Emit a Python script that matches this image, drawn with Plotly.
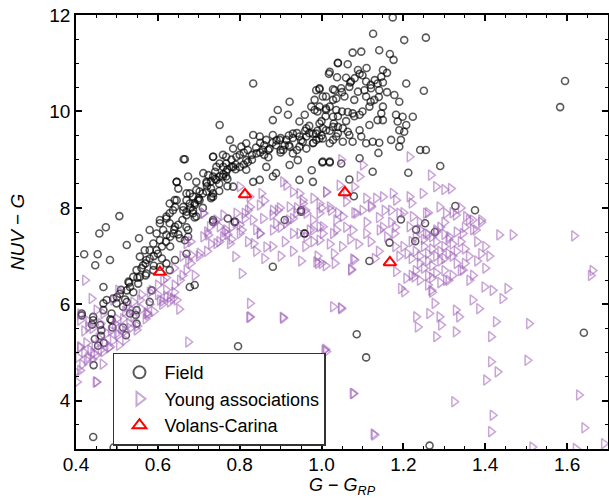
import plotly.graph_objects as go

# ---------------- data ----------------
field_pts = [
    (1.595,10.63),(1.583,10.09),(1.641,5.41),(1.126,11.61),(1.202,11.48),(1.255,11.53),(1.174,11.95),
    (1.076,11.22),(1.097,11.24),(1.141,11.27),(1.167,11.19),(1.176,11.07),(1.04,11.01),(1.064,10.98),
    (1.018,10.78),(1.038,10.71),(1.089,10.86),(1.093,10.78),(1.081,10.69),(1.072,10.62),(1.109,10.62),
    (1.15,10.86),(1.146,10.72),(1.137,10.58),(1.141,10.44),(1.121,10.48),(1.105,10.44),(1.089,10.41),
    (1.068,10.51),(1.048,10.48),(1.028,10.46),(0.995,10.46),(0.983,10.24),(0.975,10.1),(1.003,10.31),
    (1.028,10.24),(1.056,10.31),(1.08,10.24),(1.109,10.31),(1.129,10.24),(1.15,10.1),(1.178,10.34),
    (1.19,10.2),(1.207,10.58),(1.25,10.43),(0.959,9.93),(0.983,10.03),(1.011,10.06),(1.036,10.03),
    (1.064,9.99),(1.076,9.96),(1.093,9.93),(1.117,10.1),(1.137,9.82),(1.146,9.96),(1.15,9.82),
    (1.117,9.72),(1.093,9.61),(1.064,9.58),(1.068,9.51),(1.052,9.65),(1.028,9.68),(1.003,9.65),
    (0.987,9.54),(0.963,9.48),(0.954,9.37),(0.995,9.44),(1.028,9.41),(1.052,9.37),(1.076,9.37),
    (1.109,9.34),(1.097,9.48),(1.125,9.37),(1.141,9.35),(1.17,9.41),(1.182,9.93),(1.186,9.79),
    (1.198,9.89),(1.207,9.72),(1.223,9.89),(1.202,9.58),(1.19,9.61),(1.194,9.41),(1.19,9.27),
    (1.139,9.14),(1.241,9.2),(1.255,9.2),(1.212,8.73),(1.125,8.75),(1.093,9.03),(1.048,8.92),
    (1.02,8.94),(1.002,8.94),(0.976,8.78),(0.979,8.54),(1.068,8.59),(1.079,8.24),(1.29,8.87),
    (1.327,8.04),(1.375,7.95),(0.95,7.92),(1.194,7.76),(1.253,7.68),(1.231,7.55),(1.277,7.5),
    (1.166,7.28),(1.229,7.31),(1.117,6.9),(1.086,5.38),(1.109,4.9),(0.959,7.47),(0.796,5.13),
    (0.881,6.78),(0.442,3.25),(1.264,3.07),(0.492,3.03),
    (1.06,10.7),(1.10,10.75),(1.12,10.55),(1.13,10.65),(1.15,10.6),(1.16,10.8),(1.11,10.9),
    (0.751,9.72),(0.833,10.58),(0.922,10.2),(0.893,10.03),(0.918,9.93),(0.881,9.82),(0.946,9.79),
    (0.963,9.65),(0.995,9.75),(1.011,9.61),(0.979,9.54),(0.987,9.41),(0.946,9.48),(0.93,9.54),
    (0.914,9.41),(0.922,9.27),(0.898,9.41),(0.881,9.51),(0.865,9.41),(0.849,9.48),(0.833,9.51),
    (0.816,9.34),(0.804,9.27),(0.784,9.23),(0.776,9.41),(0.735,9.06),(0.759,9.10),(0.767,8.92),
    (0.792,9.06),(0.816,8.99),(0.841,9.13),(0.857,9.20),(0.873,9.23),(0.889,9.30),(0.906,9.20),
    (0.93,9.13),(0.946,9.27),(0.963,9.23),(0.979,9.34),(1.003,8.96),(1.02,8.96),(1.003,9.44),
    (1.02,9.34),(1.036,9.48),(1.04,9.68),(1.028,9.89),(1.011,10.03),(0.995,10.10),(0.987,10.44),
    (0.995,10.48),(1.011,10.31),(1.032,10.44),(1.036,10.27),(1.02,10.82),(1.04,11.0),
    (0.881,8.65),(0.889,8.72),(0.849,8.58),(0.833,8.54),(0.759,8.65),(0.735,8.65),(0.719,8.54),
    (0.743,8.85),(0.767,8.75),(0.80,8.85),(0.816,8.79),(0.865,8.85),(0.922,8.89),(0.946,8.58),
    (0.942,8.99),(0.735,8.30),(0.784,8.44),(0.666,9.01),(0.674,8.65),(0.646,8.54),(0.711,8.72),
    (0.694,8.54),(0.702,8.34),(0.678,8.30),(0.731,8.23),(0.702,8.16),(0.67,8.16),(0.69,8.06),
    (0.641,8.16),(0.629,8.09),(0.637,7.95),(0.621,7.82),(0.605,7.68),(0.662,8.02),(0.686,7.89),
    (0.95,7.95),(0.958,7.47),(0.91,7.75),(0.735,7.71),(0.771,7.78),(0.788,7.71),
    (0.97,9.7),(1.0,9.8),(1.01,9.9),(1.03,9.75),(1.04,9.9),(1.05,10.0),(0.99,10.0),(1.02,10.1),
    (0.96,9.6),(0.94,9.55),(0.92,9.5),(0.90,9.45),(0.88,9.35),(0.86,9.3),(0.84,9.25),(0.82,9.2),
    (0.80,9.1),(0.78,9.0),(0.76,8.85),(0.74,8.75),(0.90,9.2),(0.92,9.3),(0.85,9.15),(0.87,9.05),
    (0.83,9.0),(0.81,8.9),(0.79,8.8),(0.77,8.6),(0.75,8.5),(0.73,8.4),
    (0.663,9.01),(0.735,9.06),(0.751,8.92),(0.767,9.06),(0.784,8.85),(0.723,8.68),(0.743,8.58),
    (0.767,8.65),(0.719,8.51),(0.646,8.54),(0.65,8.40),(0.67,8.30),(0.686,8.23),(0.694,8.37),
    (0.698,8.16),(0.678,8.09),(0.662,7.95),(0.686,7.95),(0.694,7.82),(0.719,8.34),(0.735,8.23),
    (0.646,8.16),(0.642,8.02),(0.629,7.89),(0.621,7.78),(0.605,7.75),(0.629,7.68),(0.642,7.61),
    (0.613,7.54),(0.597,7.47),(0.621,7.44),(0.638,7.47),(0.654,7.37),(0.605,7.33),(0.589,7.26),
    (0.568,7.12),(0.58,7.12),(0.597,7.12),(0.556,6.99),(0.572,6.92),(0.564,6.81),(0.548,6.71),
    (0.54,6.57),(0.528,6.47),(0.556,6.57),(0.572,6.64),(0.589,6.71),(0.605,6.78),(0.621,6.85),
    (0.552,6.43),(0.524,6.29),(0.532,6.36),(0.585,6.29),(0.507,6.22),(0.491,6.12),(0.499,6.02),
    (0.475,6.09),(0.467,6.36),(0.442,5.74),(0.467,6.02),(0.487,5.67),(0.548,5.60),(0.67,7.92),
    (0.674,7.54),(0.674,7.40),(0.735,7.75),(0.788,7.71),(0.506,7.83),(0.473,7.60),(0.457,7.47),
    (0.42,7.04),(0.453,7.04),(0.447,6.81),(0.483,6.92),(0.524,7.23),(0.554,7.37),(0.58,7.54),
    (0.666,7.33),(0.67,7.05),(0.69,6.40),(0.678,6.36),(0.642,6.92),(0.629,6.71),(0.58,6.05),
    (0.548,5.88),(0.532,5.81),(0.524,6.05),(0.515,5.95),(0.487,5.81),(0.467,5.88),(0.442,5.67),
    (0.414,5.77),(0.459,5.57),
    (0.439,5.58),(0.454,5.14),(0.468,5.20),(0.462,5.46),(0.446,5.28),(0.461,5.35),(0.443,4.74),
    (0.484,5.69),(0.489,5.52),(0.515,5.52),(0.522,5.36),(0.546,5.78),(0.414,5.81),
    (0.56,6.75),(0.57,6.85),(0.58,6.95),(0.59,7.00),(0.60,7.05),(0.61,7.20),(0.62,7.30),(0.63,7.40),
    (0.64,7.55),(0.65,7.65),(0.66,7.75),(0.67,7.85),(0.68,8.00),(0.69,8.10),(0.70,8.20),(0.71,8.30),
    (0.72,8.45),(0.73,8.55),(0.74,8.60),(0.75,8.65),(0.76,8.70),(0.77,8.80),(0.78,8.85),(0.79,8.90),
    (0.55,6.55),(0.57,6.60),(0.59,6.80),(0.61,6.95),(0.63,7.20),(0.65,7.45),(0.67,7.60),(0.69,7.80),
    (0.71,8.00),(0.73,8.20),(0.75,8.35),(0.77,8.45),(0.53,6.45),(0.51,6.30),(0.50,6.15),(0.52,6.10),
    (0.54,6.25),
    (0.81,9.15),(0.83,9.10),(0.85,9.35),(0.87,9.20),(0.89,9.40),(0.91,9.30),(0.93,9.45),(0.95,9.40),
    (0.97,9.55),(0.99,9.60),(0.82,8.95),(0.86,9.10),(0.90,9.15),(0.94,9.20),(0.98,9.35),(1.00,9.50),
    (1.02,9.60),(1.04,9.55),(1.06,9.80),(1.08,9.90),(1.10,10.00),(1.12,10.20),(1.14,10.30),
    (1.16,10.40),(1.05,10.40),(1.07,10.60),
]

young_pts = [
    (0.422,6.50),(0.438,6.12),(0.41,5.67),(0.43,5.53),(0.45,5.88),(0.467,5.81),(0.491,6.09),
    (0.503,6.29),(0.524,5.95),(0.536,5.88),(0.556,6.09),(0.576,5.78),(0.585,6.29),(0.605,6.09),
    (0.621,6.16),(0.641,6.40),(0.654,6.50),(0.646,6.09),(0.629,6.05),(0.613,6.50),(0.67,6.71),
    (0.67,7.26),(0.682,7.02),(0.702,7.06),(0.711,7.40),(0.711,7.89),(0.727,7.61),(0.751,7.61),
    (0.763,7.50),(0.776,7.26),(0.789,6.99),(0.805,6.64),(0.825,6.02),(0.825,5.74),(0.674,5.22),
    (0.743,7.26),(0.805,7.54),(0.812,7.78),(0.825,8.02),(0.834,7.26),(0.849,7.47),(0.865,7.19),
    (0.881,7.54),(0.893,7.95),(0.913,7.68),(0.93,7.78),(0.946,7.47),(0.979,7.54),(1.003,7.47),
    (0.987,6.88),(1.02,8.02),(0.906,5.71),(1.007,5.05),(1.028,5.95),(0.442,4.98),(0.45,4.39),
    (0.41,5.12),(0.426,4.84),(0.467,5.02),(0.483,5.12),(0.503,5.36),(0.52,5.26),(0.41,4.63),
    (0.402,4.39),(0.532,5.50),(0.548,5.47),(0.572,5.81),(0.674,6.92),
    (0.991,6.85),(1.032,6.85),(1.048,5.91),(1.08,6.92),(1.072,6.71),(1.011,5.02),(1.076,4.15),
    (1.129,3.29),(1.182,6.68),(1.194,6.33),(1.202,6.26),(1.207,6.54),(1.227,6.57),(1.231,5.74),
    (1.235,5.53),(1.263,5.81),(1.268,6.29),(1.276,6.02),(1.28,5.33),(1.288,5.74),(1.292,5.57),
    (1.304,6.50),(1.328,5.88),(1.328,5.43),(1.336,5.74),(1.345,6.71),(1.361,6.50),(1.369,6.09),
    (1.385,5.91),(1.398,6.36),(1.418,6.29),(1.426,5.64),(1.442,6.12),(1.454,6.33),(1.414,5.33),
    (1.414,4.81),(1.43,4.60),(1.402,4.43),(1.324,3.98),(1.418,3.70),(1.414,3.36),(1.507,5.60),
    (1.503,4.84),(1.434,7.44),(1.467,7.44),(1.617,7.42),(1.662,6.70),(1.658,6.60),(1.629,4.12),
    (1.642,3.44),(1.69,3.11),(1.515,3.04),(1.621,3.01),
    (1.215,9.06),(1.101,8.89),(1.093,8.65),(1.048,9.00),(1.08,8.44),(1.044,8.47),(1.011,8.33),
    (1.267,8.68),(1.28,8.44),(1.30,8.38),(1.316,8.40),(1.247,8.30),(1.215,8.23),(1.182,8.16),
    (1.174,8.30),(1.15,8.23),(1.133,8.20),(1.109,8.20),(1.121,8.02),(1.06,8.13),(0.995,8.09),
    (0.954,8.16),(1.023,7.95),(1.052,7.82),(1.085,7.89),(1.154,7.95),(1.19,7.89),(1.223,7.82),
    (1.255,7.89),(1.288,8.02),(1.304,7.89),(1.328,7.85),(1.353,7.82),(1.369,7.75),(1.39,7.75),
    (1.377,7.54),(1.345,7.47),(1.312,7.40),(1.28,7.54),(1.255,7.47),(1.215,7.61),(1.178,7.47),
    (1.142,7.54),(1.109,7.47),(1.076,7.54),(1.036,7.54),(1.003,7.61),(0.971,7.54),(0.995,7.33),
    (0.963,7.89),
    (0.80,8.44),(0.824,8.23),(0.853,8.30),(0.849,8.06),(0.711,7.89),(0.743,7.75),(0.767,7.54),
    (0.759,7.40),(0.723,7.44),(0.792,7.89),(0.812,7.89),(0.832,7.75),(0.857,7.78),(0.881,7.95),
    (0.898,8.00),(0.922,8.02),(0.938,7.89),(0.914,8.47),(0.93,8.33),(0.906,8.54),(0.946,8.30),
    (0.954,8.09),(1.011,8.33),(0.979,7.75),(0.995,7.89),(0.80,7.47),(0.849,7.47),(0.889,7.68),
    (0.93,7.47),(0.963,7.40),(0.995,7.61),(1.028,7.47),(1.036,7.75),
    (1.22,7.30),(1.23,7.10),(1.24,7.00),(1.25,7.20),(1.26,7.05),(1.26,6.90),(1.27,7.15),(1.27,6.80),
    (1.28,7.00),(1.28,7.30),(1.29,6.90),(1.29,7.10),(1.30,7.20),(1.30,6.95),(1.31,7.05),(1.31,7.35),
    (1.32,7.00),(1.32,7.25),(1.33,6.85),(1.25,6.75),(1.26,6.60),(1.27,6.55),(1.28,6.65),(1.24,6.85),
    (1.23,7.40),(1.24,7.55),(1.26,7.45),(1.28,7.50),(1.30,7.45),(1.29,7.60),(1.21,7.05),(1.22,6.95),
    (1.20,7.20),(1.25,7.35),(1.27,7.40),(1.33,7.10),(1.34,7.30),(1.35,7.15),(1.36,7.00),(1.35,6.85),
    (1.34,6.70),(1.32,6.60),(1.30,6.70),(1.29,6.45),(1.31,6.50),(1.27,6.25),(1.26,6.40),(1.24,6.50),
    (1.22,6.60),(1.23,6.70),
    (1.12,7.30),(1.14,7.10),(1.16,7.40),(1.18,7.20),(1.19,7.00),(1.13,6.95),(1.15,7.60),(1.17,7.70),
    (1.11,7.70),(1.09,7.25),(1.07,7.35),(1.05,7.20),(1.03,7.05),(1.06,7.60),(1.08,7.90),(1.12,8.05),
    (1.17,7.95),(1.38,7.30),(1.39,7.05),(1.40,7.20),(1.37,7.55),(1.36,7.75),(1.39,7.70),(1.38,6.90),
    (1.41,7.00),(1.40,6.75),(1.37,6.60),(1.33,7.50),(1.35,7.60),
    (0.88,7.20),(0.91,7.30),(0.93,7.10),(0.96,7.20),(0.99,7.00),(0.98,7.30),(0.90,7.00),(0.86,6.95),
    (0.84,7.10),(0.95,6.90),(1.00,6.85),(1.01,6.80),(1.02,7.25),(0.82,7.30),
    (0.40,4.60),(0.405,4.90),(0.41,5.10),(0.415,4.75),(0.42,5.00),(0.425,5.20),(0.43,4.90),
    (0.435,5.05),(0.44,4.86),(0.445,5.15),(0.45,4.95),(0.455,5.30),(0.46,5.05),(0.465,4.76),
    (0.47,5.20),(0.475,5.40),(0.48,5.10),(0.485,5.45),(0.49,5.25),(0.495,5.60),(0.50,5.40),
    (0.505,5.15),(0.51,5.50),(0.515,5.70),(0.52,5.45),(0.53,5.60),(0.54,5.75),(0.55,5.55),
    (0.56,5.90),(0.57,5.70),(0.58,6.00),(0.59,5.85),(0.60,6.20),(0.61,6.00),(0.62,6.30),
    (0.63,6.15),(0.64,6.25),(0.66,6.60),(0.68,6.85),(0.69,6.60),(0.70,7.00),(0.72,7.10),
    (0.73,7.25),(0.75,7.30),(0.77,7.45),(0.78,7.60),(0.79,7.70),(0.42,5.45),(0.43,5.65),
    (0.41,5.80),(0.44,5.50),(0.46,5.60),
    (0.448,4.39),(0.652,5.90),(0.637,6.12),(0.612,6.07),(0.574,5.82),(0.823,5.73),(0.905,5.73),
    (0.905,3.88),(1.078,4.15),(1.127,3.31),(1.009,5.07),(1.047,5.93),(1.072,6.73),(1.077,6.94),
    (0.72,7.50),(0.74,7.70),(0.76,7.85),(0.78,7.35),(0.80,7.65),(0.82,7.95),(0.84,7.55),(0.86,8.15),
    (0.88,7.85),(0.90,7.60),(0.92,7.75),(0.94,8.00),(0.96,7.95),(0.98,8.20),(1.00,8.00),(1.04,7.90),
    (1.06,8.30),(1.10,7.95),(1.14,7.80),(1.18,7.60),(1.20,7.90),(1.22,8.10),(1.24,7.70),(1.26,7.90),
    (1.30,7.70),(1.32,7.90),(1.34,8.00),(0.68,7.30),(0.66,7.00),(0.64,6.75),(0.62,6.55),(0.60,6.40),
    (0.58,6.25),(0.56,6.20),(0.54,6.05),(0.52,5.85),(0.50,5.70),
]

volans_pts = [(0.605, 6.67), (0.813, 8.28), (1.057, 8.32), (1.167, 6.87)]

series_names = ["Field", "Young associations", "Volans-Carina"]

x_range = [0.4, 1.7]
y_range = [3, 12]

# ---------------- figure ----------------
FONT = "Liberation Sans, Arial, Helvetica, sans-serif"

fig = go.Figure()
fig.add_trace(go.Scatter(
    x=[p[0] for p in field_pts], y=[p[1] for p in field_pts],
    mode="markers", name=series_names[0],
    marker=dict(symbol="circle-open", size=7, color="rgba(0,0,0,0.65)",
                line=dict(width=1.6, color="rgba(0,0,0,0.65)")),
))
fig.add_trace(go.Scatter(
    x=[p[0] for p in young_pts], y=[p[1] for p in young_pts],
    mode="markers", name=series_names[1],
    marker=dict(symbol="triangle-right-open", size=9, color="rgba(157,93,183,0.55)",
                line=dict(width=1.5, color="rgba(157,93,183,0.55)")),
))
fig.add_trace(go.Scatter(
    x=[p[0] for p in volans_pts], y=[p[1] for p in volans_pts],
    mode="markers", name=series_names[2],
    marker=dict(symbol="triangle-up-open", size=11, color="red",
                line=dict(width=2, color="red")),
))

axis_common = dict(
    showline=True, linecolor="black", linewidth=1.5, mirror="ticks",
    ticks="inside", ticklen=6, tickwidth=1.5, tickcolor="black",
    showgrid=False, zeroline=False,
    tickfont=dict(family=FONT, size=19, color="black"),
    automargin=False,
)

fig.update_xaxes(
    range=x_range, dtick=0.2, tick0=0.4, tickformat=".1f", ticklabelstandoff=-3,
    minor=dict(ticks="inside", ticklen=3, dtick=0.05, tick0=0.4, tickcolor="black", tickwidth=1.2),
    **axis_common,
)
fig.update_yaxes(
    range=y_range, dtick=2, tick0=0,
    minor=dict(ticks="inside", ticklen=3, dtick=0.5, tick0=0, tickcolor="black", tickwidth=1.2),
    title=dict(text="<i>NUV</i> − <i>G</i>",
               font=dict(family=FONT, size=19, color="black"), standoff=20),
    **axis_common,
)

# x-axis title placed just below the tick labels
fig.add_annotation(
    text="<i>G</i> − <i>G</i><sub><i>RP</i></sub>",
    xref="paper", yref="paper", x=0.5, y=-0.087, xanchor="center", yanchor="middle",
    showarrow=False, font=dict(family=FONT, size=18, color="black"),
)

fig.update_layout(
    width=609, height=498,
    margin=dict(l=76, r=1, t=15, b=49),
    paper_bgcolor="white", plot_bgcolor="white",
    font=dict(family=FONT, color="black"),
    legend=dict(
        x=0.0695, y=0.222, xanchor="left", yanchor="top",
        bgcolor="white", bordercolor="#333333", borderwidth=1.5,
        font=dict(family=FONT, size=18, color="black"),
        itemsizing="constant", itemwidth=40, tracegroupgap=0,
    ),
    showlegend=True,
)

fig.write_html("out.html")
